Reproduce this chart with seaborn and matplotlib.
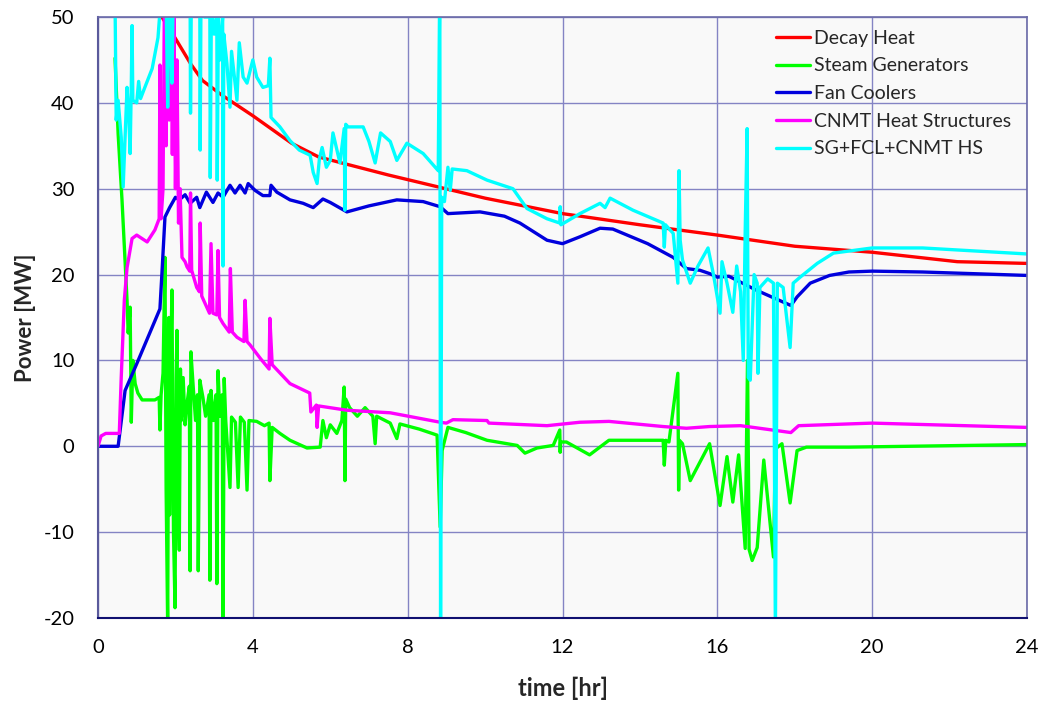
import matplotlib
matplotlib.use("Agg")
import matplotlib.pyplot as plt
import seaborn as sns
import pandas as pd

# ---------------- data (time [hr], power [MW]) ----------------
decay_heat = [(1.55, 51.5), (1.65, 50.0), (2.0, 47.5), (2.4, 44.5), (2.7, 42.6), (3.2, 40.9),
              (4.0, 38.5), (5.0, 35.3), (5.7, 33.7), (7.5, 31.6), (10.0, 28.9), (12.0, 27.1),
              (14.0, 25.8), (16.0, 24.6), (18.0, 23.3), (20.0, 22.6), (22.2, 21.5), (24.0, 21.3)]

steam_gen = [(0.44, 45.2), (0.52, 36.4), (0.62, 28.7), (0.75, 17.0), (0.78, 13.2), (0.83, 16.2),
             (0.86, 2.8), (0.9, 10.0), (0.96, 7.3), (1.03, 6.2), (1.14, 5.4), (1.47, 5.4),
             (1.58, 5.7), (1.6, 1.9), (1.63, 6.0), (1.68, 8.5), (1.73, 22.0), (1.76, -5.0),
             (1.8, -21.0), (1.83, 15.0), (1.85, -8.0), (1.88, 10.0), (1.91, 18.2), (1.95, -10.0),
             (1.99, -18.8), (2.02, 8.0), (2.04, 13.5), (2.07, -6.0), (2.1, -12.1), (2.13, 9.0),
             (2.15, 3.0), (2.2, 8.0), (2.25, 2.5), (2.3, 5.0), (2.36, 7.0), (2.38, -14.5),
             (2.4, 11.0), (2.46, 6.9), (2.52, 3.0), (2.57, 6.0), (2.59, -14.5), (2.63, 7.7),
             (2.71, 5.7), (2.78, 3.5), (2.87, 6.0), (2.89, -15.6), (2.92, 6.5), (2.98, 3.0),
             (3.05, 6.0), (3.07, -16.0), (3.1, 8.8), (3.15, 3.5), (3.21, 6.0), (3.23, -21.0),
             (3.26, 7.9), (3.3, 3.0), (3.41, -4.8), (3.45, 3.4), (3.55, 2.8), (3.62, -4.8),
             (3.68, 3.4), (3.78, 2.8), (3.85, -5.1), (3.9, 3.0), (4.1, 2.9), (4.3, 2.4),
             (4.42, 2.7), (4.44, -4.0), (4.5, 2.2), (4.7, 1.5), (4.96, 0.7), (5.4, -0.2),
             (5.74, -0.1), (5.81, 3.0), (5.9, 1.0), (6.0, 2.5), (6.17, 1.5), (6.3, 3.0),
             (6.36, 6.9), (6.38, -4.0), (6.4, 5.5), (6.5, 4.5), (6.7, 3.5), (6.9, 4.5),
             (7.1, 3.5), (7.16, 0.3), (7.2, 3.5), (7.55, 2.7), (7.72, 0.9), (7.8, 2.6),
             (8.3, 2.0), (8.76, 1.3), (8.84, -9.4), (8.89, -0.5), (9.04, 2.2), (9.5, 1.6),
             (10.05, 0.7), (10.83, 0.1), (11.03, -0.8), (11.34, -0.2), (11.76, 0.1),
             (11.93, 1.9), (11.94, -0.7), (11.95, 0.5), (12.1, 0.5), (12.7, -1.0), (13.2, 0.7),
             (14.6, 0.7), (14.63, -2.2), (14.67, 0.7), (14.75, 0.5), (14.98, 8.5), (15.0, -5.1),
             (15.02, 0.7), (15.1, 0.3), (15.3, -4.0), (15.8, 0.3), (16.07, -6.9), (16.25, -1.2),
             (16.4, -6.5), (16.55, -1.0), (16.72, -11.9), (16.78, 10.0), (16.82, -12.0),
             (16.9, -13.3), (17.03, -11.8), (17.2, -1.6), (17.45, -12.9), (17.5, -0.3),
             (17.67, 0.3), (17.88, -6.6), (18.06, -0.5), (18.3, -0.1), (19.4, -0.1), (24.0, 0.2)]

fan_coolers = [(0.0, 0.0), (0.52, 0.0), (0.7, 6.5), (1.0, 9.6), (1.3, 12.8), (1.6, 16.0),
               (1.65, 20.0), (1.73, 26.7), (1.85, 27.8), (2.0, 29.0), (2.1, 28.7), (2.25, 29.3),
               (2.38, 28.3), (2.55, 29.0), (2.63, 27.8), (2.8, 29.6), (2.97, 28.4), (3.1, 29.5),
               (3.23, 29.0), (3.41, 30.4), (3.54, 29.5), (3.67, 30.4), (3.8, 29.5), (3.88, 30.6),
               (4.06, 29.8), (4.26, 29.2), (4.44, 29.2), (4.47, 30.4), (4.62, 29.6), (4.96, 28.7),
               (5.3, 28.3), (5.56, 27.8), (5.81, 28.8), (6.0, 28.4), (6.43, 27.3), (7.0, 28.0),
               (7.72, 28.7), (8.4, 28.5), (8.84, 27.9), (9.04, 27.1), (9.87, 27.3), (10.5, 26.8),
               (10.9, 26.0), (11.6, 24.0), (12.0, 23.6), (12.45, 24.4), (12.97, 25.4), (13.3, 25.3),
               (14.2, 23.6), (14.86, 22.0), (15.2, 20.7), (15.55, 20.5), (15.81, 20.1), (16.0, 19.7),
               (16.3, 19.8), (17.0, 18.2), (17.9, 16.4), (18.06, 17.4), (18.4, 19.0), (18.9, 19.9),
               (19.4, 20.3), (20.0, 20.4), (21.3, 20.3), (24.0, 19.9)]

cnmt_hs = [(0.0, 0.0), (0.08, 1.2), (0.2, 1.5), (0.55, 1.5), (0.6, 8.0), (0.68, 17.0), (0.75, 20.8),
           (0.88, 24.2), (1.0, 24.6), (1.27, 23.8), (1.47, 25.2), (1.58, 26.5), (1.6, 44.4),
           (1.63, 26.5), (1.68, 30.0), (1.72, 55.0), (1.76, 35.0), (1.8, 55.0), (1.84, 38.0),
           (1.88, 55.0), (1.92, 34.0), (1.96, 52.0), (2.0, 30.0), (2.04, 45.0), (2.08, 26.0),
           (2.12, 30.0), (2.17, 22.0), (2.25, 21.5), (2.3, 20.9), (2.37, 20.4), (2.39, 29.5),
           (2.42, 20.5), (2.55, 18.5), (2.62, 18.0), (2.64, 26.0), (2.68, 17.5), (2.88, 15.5),
           (2.92, 23.6), (2.97, 15.5), (3.07, 15.3), (3.1, 22.8), (3.14, 15.0), (3.23, 14.3),
           (3.39, 13.3), (3.42, 20.7), (3.47, 13.3), (3.59, 12.7), (3.77, 12.2), (3.8, 17.0),
           (3.85, 12.2), (3.93, 11.8), (4.2, 10.2), (4.42, 9.0), (4.44, 14.9), (4.5, 9.5),
           (4.96, 7.3), (5.47, 6.2), (5.5, 4.0), (5.64, 4.8), (5.66, 2.2), (5.7, 4.7),
           (6.43, 4.2), (7.55, 3.9), (8.84, 2.8), (9.0, 2.7), (9.17, 3.1), (10.05, 3.0),
           (10.1, 2.7), (11.6, 2.4), (12.45, 2.8), (13.2, 2.9), (14.6, 2.3), (15.2, 2.1),
           (15.8, 2.3), (16.6, 2.4), (17.9, 1.6), (18.1, 2.4), (20.0, 2.7), (24.0, 2.2)]

total_hs = [(0.44, 52.0), (0.47, 38.0), (0.52, 40.3), (0.6, 36.0), (0.65, 30.2), (0.75, 41.8),
            (0.8, 38.0), (0.83, 34.1), (0.86, 42.0), (0.88, 49.0), (0.9, 40.3), (1.0, 40.0),
            (1.05, 42.5), (1.1, 40.5), (1.21, 41.8), (1.4, 44.0), (1.55, 47.6), (1.62, 52.0),
            (1.75, 55.0), (1.8, 39.5), (1.84, 55.0), (1.91, 42.3), (1.95, 55.0), (2.1, 53.0),
            (2.38, 52.0), (2.39, 38.8), (2.41, 52.0), (2.63, 52.0), (2.64, 34.5), (2.66, 52.0),
            (2.75, 50.0), (2.89, 50.0), (2.9, 31.3), (2.93, 52.0), (3.0, 48.0), (3.07, 50.0),
            (3.08, 31.0), (3.11, 50.0), (3.15, 45.0), (3.22, 50.0), (3.23, 21.0), (3.25, 48.0),
            (3.33, 44.6), (3.41, 39.5), (3.45, 46.0), (3.59, 40.3), (3.65, 47.0), (3.75, 43.0),
            (3.85, 42.3), (4.0, 45.0), (4.1, 43.0), (4.26, 41.8), (4.4, 42.0), (4.44, 45.2),
            (4.47, 38.3), (4.7, 37.2), (4.96, 35.6), (5.2, 34.5), (5.48, 33.9), (5.56, 31.9),
            (5.66, 30.6), (5.72, 33.5), (5.79, 34.8), (5.9, 32.5), (6.0, 33.3), (6.07, 36.5),
            (6.25, 33.0), (6.36, 37.0), (6.38, 27.5), (6.4, 37.5), (6.46, 37.2), (6.85, 37.2),
            (7.0, 35.5), (7.16, 33.0), (7.3, 36.5), (7.55, 35.5), (7.72, 33.3), (7.98, 35.3),
            (8.4, 34.1), (8.79, 32.1), (8.83, 55.0), (8.85, -22.0), (8.88, 29.0), (8.95, 28.5),
            (9.04, 32.5), (9.1, 29.8), (9.15, 32.3), (9.53, 32.1), (10.05, 31.0), (10.72, 30.0),
            (11.08, 27.7), (11.6, 26.5), (11.93, 26.0), (11.94, 27.9), (11.96, 25.8), (12.45, 27.1),
            (12.97, 28.3), (13.1, 27.8), (13.23, 28.9), (13.82, 27.5), (14.6, 26.0), (14.63, 23.2),
            (14.66, 25.8), (14.86, 24.8), (14.98, 19.0), (15.01, 32.1), (15.04, 24.0), (15.1, 21.7),
            (15.3, 19.0), (15.5, 21.0), (15.76, 23.1), (15.9, 20.0), (16.07, 15.5), (16.12, 21.5),
            (16.25, 19.0), (16.4, 15.6), (16.5, 21.0), (16.6, 18.0), (16.67, 10.0), (16.72, 25.0),
            (16.77, 37.0), (16.8, 8.0), (16.85, 7.7), (16.95, 20.0), (17.03, 19.0), (17.05, 8.5),
            (17.1, 18.5), (17.3, 19.5), (17.45, 19.0), (17.5, -22.0), (17.55, 19.0), (17.7, 18.5),
            (17.88, 11.5), (17.96, 19.0), (18.14, 19.7), (18.58, 21.3), (19.0, 22.5), (20.0, 23.1),
            (21.3, 23.1), (24.0, 22.4)]

series_names = ["Decay Heat", "Steam Generators", "Fan Coolers", "CNMT Heat Structures", "SG+FCL+CNMT HS"]
series_data = [decay_heat, steam_gen, fan_coolers, cnmt_hs, total_hs]
series_colors = ["#ff0000", "#00ff00", "#0000dd", "#ff00ff", "#00ffff"]

x_ticks = [0, 4, 8, 12, 16, 20, 24]
y_ticks = [-20, -10, 0, 10, 20, 30, 40, 50]

# ---------------- plotting ----------------
sns.set_style("white")
plt.rcParams["font.family"] = ["Lato", "DejaVu Sans"]
plt.rcParams["axes.unicode_minus"] = False

fig = plt.figure(figsize=(10.45, 7.08), dpi=100)
ax = fig.add_axes([98 / 1045, 1 - 618 / 708, (1027 - 98) / 1045, (618 - 17) / 708])
ax.set_facecolor("#f9f9f9")

for name, pts, col in zip(series_names, series_data, series_colors):
    df = pd.DataFrame(pts, columns=["t", "P"])
    sns.lineplot(data=df, x="t", y="P", ax=ax, color=col, linewidth=2.4,
                 estimator=None, sort=False, label=name)

ax.set_xlim(0, 24)
ax.set_ylim(-20, 50)
ax.set_xticks(x_ticks)
ax.set_yticks(y_ticks)
ax.grid(True, color="#8484c4", linewidth=1.0)
ax.set_axisbelow(True)

ax.spines["left"].set_color("#5a5a9c")
ax.spines["left"].set_linewidth(1.5)
ax.spines["bottom"].set_color("#101070")
ax.spines["bottom"].set_linewidth(1.5)
for side in ["top", "right"]:
    ax.spines[side].set_visible(True)
    ax.spines[side].set_color("#6a6aa8")
    ax.spines[side].set_linewidth(1.2)

ax.tick_params(axis="both", direction="out", length=6, width=1.2, color="#14146e",
               labelsize=14.5, labelcolor="black")
ax.tick_params(axis="y", pad=11)
ax.tick_params(axis="x", pad=9)

ax.set_xlabel("time [hr]", fontsize=17, fontweight="bold", labelpad=15)
ax.set_ylabel("Power [MW]", fontsize=16, fontweight="bold", labelpad=5)

leg = ax.legend(loc="upper left", bbox_to_anchor=(0.73, 0.979), frameon=False,
                fontsize=14, handlelength=1.75, handletextpad=0.2, labelspacing=0.55,
                borderpad=0, borderaxespad=0)
for line in leg.get_lines():
    line.set_linewidth(2.4)

fig.savefig("out.png", dpi=100, facecolor="white")
